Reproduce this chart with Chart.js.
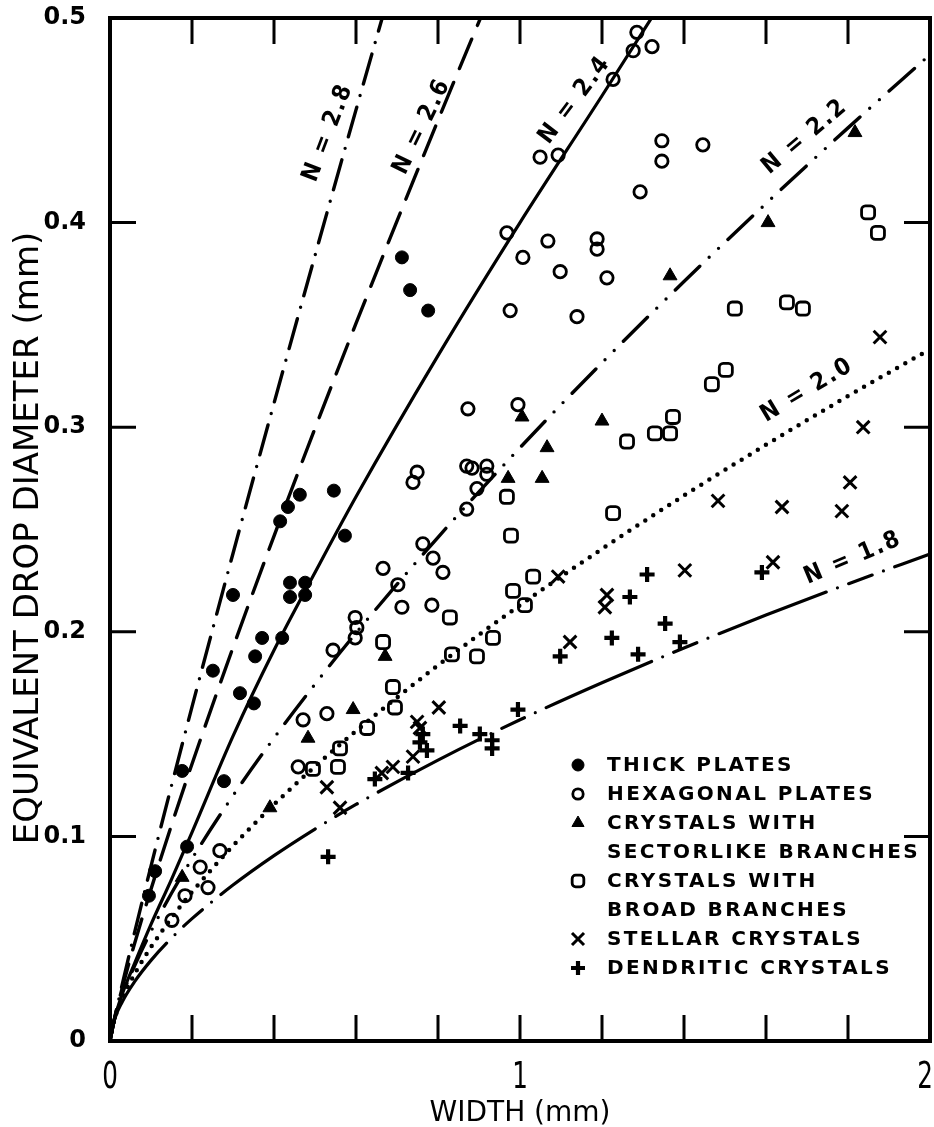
<!DOCTYPE html>
<html>
<head>
<meta charset="utf-8">
<script src="https://cdn.jsdelivr.net/npm/chart.js@4.4.1/dist/chart.umd.min.js"></script>
<style>
  html, body { margin: 0; padding: 0; background: #fff; }
  canvas { display: block; }
</style>
</head>
<body>
<canvas id="crystals" width="934" height="1127"></canvas>
<script>
// width (mm) / equivalent drop diameter (mm)
const thickPlates = [
  [0.712, 0.383], [0.732, 0.367], [0.776, 0.357], [0.546, 0.269], [0.463, 0.267],
  [0.434, 0.261], [0.415, 0.254], [0.573, 0.247], [0.439, 0.224], [0.476, 0.224],
  [0.439, 0.217], [0.476, 0.218], [0.300, 0.218], [0.371, 0.197], [0.420, 0.197],
  [0.354, 0.188], [0.251, 0.181], [0.317, 0.170], [0.351, 0.165], [0.278, 0.127],
  [0.188, 0.095], [0.176, 0.132], [0.110, 0.083], [0.095, 0.071]
];
const hexagonalPlates = [
  [1.285, 0.493], [1.276, 0.484], [1.322, 0.486], [1.227, 0.470], [1.049, 0.432],
  [1.093, 0.433], [1.346, 0.440], [1.346, 0.430], [1.293, 0.415], [1.446, 0.438],
  [0.968, 0.395], [1.007, 0.383], [1.068, 0.391], [1.098, 0.376], [1.188, 0.392],
  [1.188, 0.387], [1.212, 0.373], [0.976, 0.357], [1.139, 0.354], [0.873, 0.309],
  [0.995, 0.311], [0.749, 0.278], [0.739, 0.273], [0.870, 0.281], [0.883, 0.280],
  [0.919, 0.281], [0.919, 0.277], [0.895, 0.270], [0.870, 0.260], [0.763, 0.243],
  [0.788, 0.236], [0.812, 0.229], [0.666, 0.231], [0.702, 0.223], [0.712, 0.212],
  [0.785, 0.213], [0.598, 0.207], [0.602, 0.202], [0.598, 0.197], [0.544, 0.191],
  [0.529, 0.160], [0.471, 0.157], [0.459, 0.134], [0.268, 0.093], [0.220, 0.085],
  [0.239, 0.075], [0.183, 0.071], [0.151, 0.059]
];
const sectorBranches = [
  [1.817, 0.444], [1.605, 0.400], [1.366, 0.374], [1.200, 0.303], [1.066, 0.290],
  [1.054, 0.275], [0.971, 0.275], [1.005, 0.305], [0.671, 0.188], [0.593, 0.162],
  [0.483, 0.148], [0.390, 0.114], [0.176, 0.080]
];
const broadBranches = [
  [1.849, 0.405], [1.873, 0.395], [1.524, 0.358], [1.651, 0.361], [1.690, 0.358],
  [1.502, 0.328], [1.468, 0.321], [1.373, 0.305], [1.329, 0.297], [1.366, 0.297],
  [1.261, 0.293], [0.968, 0.266], [0.978, 0.247], [1.227, 0.258], [1.032, 0.227],
  [0.983, 0.220], [1.012, 0.213], [0.829, 0.207], [0.666, 0.195], [0.895, 0.188],
  [0.934, 0.197], [0.834, 0.189], [0.690, 0.173], [0.695, 0.163], [0.627, 0.153],
  [0.561, 0.143], [0.556, 0.134], [0.495, 0.133]
];
const stellarCrystals = [
  [1.878, 0.344], [1.837, 0.300], [1.805, 0.273], [1.785, 0.259], [1.639, 0.261],
  [1.483, 0.264], [1.617, 0.234], [1.402, 0.230], [1.212, 0.218], [1.207, 0.212],
  [1.093, 0.227], [1.122, 0.195], [0.802, 0.163], [0.756, 0.153], [0.749, 0.156],
  [0.739, 0.139], [0.690, 0.134], [0.663, 0.131], [0.529, 0.124], [0.561, 0.114]
];
const dendriticCrystals = [
  [1.310, 0.228], [1.268, 0.217], [1.224, 0.197], [1.098, 0.188], [1.288, 0.189],
  [0.995, 0.162], [0.932, 0.147], [1.590, 0.229], [1.354, 0.204], [1.390, 0.195],
  [0.902, 0.150], [0.932, 0.143], [0.854, 0.154], [0.763, 0.150], [0.756, 0.146],
  [0.773, 0.142], [0.727, 0.131], [0.646, 0.128], [0.532, 0.090]
];

// N curves, sampled at curveWidths
const curveWidths = [0, 0.01, 0.03, 0.06, 0.1, 0.15, 0.2, 0.3, 0.4, 0.5, 0.6, 0.8, 1.0, 1.2, 1.4, 1.6, 1.8, 2.0];
const curveN18 = [0, 0.0099, 0.0192, 0.0290, 0.0394, 0.0503, 0.0598, 0.0762, 0.0906, 0.1036, 0.1156, 0.1373, 0.157, 0.1751, 0.1921, 0.2082, 0.2234, 0.2380];
const curveN20 = [0, 0.0099, 0.0206, 0.0327, 0.0459, 0.0601, 0.0728, 0.0954, 0.1156, 0.1342, 0.1515, 0.1836, 0.213, 0.2405, 0.2666, 0.2914, 0.3152, 0.3381];
const curveN22 = [0, 0.0099, 0.0222, 0.0368, 0.0536, 0.0722, 0.0891, 0.1199, 0.1481, 0.1744, 0.1994, 0.2462, 0.290, 0.3315, 0.3712, 0.4093, 0.4463, 0.4821];
const curveN24 = [0, 0.0100, 0.023, 0.038, 0.057, 0.079, 0.102, 0.149, 0.191, 0.229, 0.266, 0.335, 0.400, 0.462, 0.525];
const curveN26 = [0, 0.0101, 0.0261, 0.0477, 0.0742, 0.1055, 0.1354, 0.1923, 0.2468, 0.2994, 0.3507, 0.4500, 0.546];
const curveN28 = [0, 0.0100, 0.0278, 0.0531, 0.0855, 0.1248, 0.1633, 0.2383, 0.3117, 0.3839, 0.4551, 0.595];
const curveN = [1.8, 2.0, 2.2, 2.4, 2.6, 2.8];

const xTickLabels = [0, 1, 2];

const FONT_SANS = '"DejaVu Sans", sans-serif';
const FONT_COND = '"DejaVu Sans Condensed", "DejaVu Sans", sans-serif';

function toPoints(pairs) {
  return pairs.map(([w, d]) => ({ x: w, y: d }));
}

function curvePoints(values) {
  return values.map((d, i) => ({ x: curveWidths[i], y: d }));
}

// line style per curve, same order as curveN
const curveStyles = [
  { values: curveN18, dash: [115, 12, 0, 12, 25, 12, 0, 12], width: 3.2, label: [1.812, 0.236, -23] },
  { values: curveN20, dash: [0, 9.5], width: 4.5, label: [1.700, 0.318, -31] },
  { values: curveN22, dash: [34, 13, 0, 13, 0, 13], width: 3.4, label: [1.695, 0.442, -40] },
  { values: curveN24, dash: [], width: 3.2, label: [1.134, 0.460, -53] },
  { values: curveN26, dash: [32, 15], width: 3.4, label: [0.761, 0.447, -64] },
  { values: curveN28, dash: [31, 12, 0, 12], width: 3.4, label: [0.532, 0.444, -69] },
];

const curveSets = curveStyles.map((s, i) => ({
  label: 'N = ' + curveN[i].toFixed(1),
  data: curvePoints(s.values),
  showLine: true,
  pointRadius: 0,
  borderColor: '#000',
  borderWidth: s.width,
  borderDash: s.dash,
  borderCapStyle: 'round',
  cubicInterpolationMode: 'monotone',
  isCurve: true,
  labelAt: s.label,
}));

const markerSets = [
  { label: 'THICK PLATES', data: toPoints(thickPlates), pointStyle: 'circle', pointRadius: 6.5,
    pointBackgroundColor: '#000', pointBorderWidth: 1, legendRadius: 6 },
  { label: 'HEXAGONAL PLATES', data: toPoints(hexagonalPlates), pointStyle: 'circle', pointRadius: 6.2,
    pointBackgroundColor: 'rgba(0,0,0,0)', pointBorderWidth: 2.8, legendRadius: 5.2 },
  { label: 'CRYSTALS WITH\nSECTORLIKE BRANCHES', data: toPoints(sectorBranches), pointStyle: 'triangle', pointRadius: 8,
    pointBackgroundColor: '#000', pointBorderWidth: 1, legendRadius: 7 },
  { label: 'CRYSTALS WITH\nBROAD BRANCHES', data: toPoints(broadBranches), pointStyle: 'rectRounded', pointRadius: 7.6,
    pointBackgroundColor: 'rgba(0,0,0,0)', pointBorderWidth: 2.8, legendRadius: 6.8 },
  { label: 'STELLAR CRYSTALS', data: toPoints(stellarCrystals), pointStyle: 'crossRot', pointRadius: 9,
    pointBackgroundColor: '#000', pointBorderWidth: 3, legendRadius: 8.5 },
  { label: 'DENDRITIC CRYSTALS', data: toPoints(dendriticCrystals), pointStyle: 'cross', pointRadius: 7.5,
    pointBackgroundColor: '#000', pointBorderWidth: 4.2, legendRadius: 7 },
].map(d => Object.assign({ pointBorderColor: '#000', showLine: false }, d));

// frame, inward ticks, x labels, curve labels, legend and axis titles
const paperFrame = {
  id: 'paperFrame',
  afterDatasetsDraw(chart) {
    const { ctx, chartArea: a, scales: { x, y } } = chart;
    const tickLen = 26;
    ctx.save();
    ctx.strokeStyle = '#000';
    ctx.fillStyle = '#000';

    ctx.lineWidth = 3;
    ctx.beginPath();
    x.ticks.forEach(t => {
      if (t.value < 0.01 || t.value > 1.99) return;
      const px = x.getPixelForValue(t.value);
      ctx.moveTo(px, a.bottom); ctx.lineTo(px, a.bottom - tickLen);
      ctx.moveTo(px, a.top); ctx.lineTo(px, a.top + tickLen);
    });
    y.ticks.forEach(t => {
      if (t.value < 0.01 || t.value > 0.49) return;
      const py = y.getPixelForValue(t.value);
      ctx.moveTo(a.left, py); ctx.lineTo(a.left + tickLen, py);
      ctx.moveTo(a.right, py); ctx.lineTo(a.right - tickLen, py);
    });
    ctx.stroke();

    ctx.lineWidth = 4;
    ctx.strokeRect(a.left, a.top, a.right - a.left, a.bottom - a.top);

    // tall narrow x labels
    ctx.font = '38px ' + FONT_COND;
    ctx.textAlign = 'center';
    ctx.textBaseline = 'alphabetic';
    xTickLabels.forEach(v => {
      const px = Math.min(x.getPixelForValue(v), a.right - 5);
      ctx.save();
      ctx.translate(px, 1088);
      ctx.scale(0.72, 1);
      ctx.fillText(String(v), 0, 0);
      ctx.restore();
    });

    // N = ... along each curve
    ctx.font = 'bold 24px ' + FONT_COND;
    ctx.letterSpacing = '2px';
    ctx.textBaseline = 'middle';
    chart.data.datasets.forEach(ds => {
      if (!ds.isCurve) return;
      const [w, d, ang] = ds.labelAt;
      ctx.save();
      ctx.translate(x.getPixelForValue(w), y.getPixelForValue(d));
      ctx.rotate(ang * Math.PI / 180);
      ctx.fillText(ds.label, 0, 0);
      ctx.restore();
    });

    // legend
    const markX = a.left + 468;
    const textX = a.left + 497;
    let rowY = 765;
    const rowH = 29;
    ctx.font = 'bold 20px ' + FONT_SANS;
    ctx.letterSpacing = '2.4px';
    ctx.textAlign = 'left';
    chart.data.datasets.forEach(ds => {
      if (ds.isCurve) return;
      ctx.save();
      ctx.fillStyle = ds.pointBackgroundColor;
      ctx.strokeStyle = '#000';
      ctx.lineWidth = ds.pointBorderWidth;
      Chart.helpers.drawPoint(ctx, {
        pointStyle: ds.pointStyle, radius: ds.legendRadius, rotation: 0,
        borderWidth: ds.pointBorderWidth
      }, markX, rowY);
      ctx.restore();
      ds.label.split('\n').forEach(line => {
        ctx.fillText(line, textX, rowY + 1);
        rowY += rowH;
      });
    });

    // axis titles
    ctx.letterSpacing = '0px';
    ctx.textAlign = 'center';
    ctx.textBaseline = 'alphabetic';
    ctx.font = '28px ' + FONT_SANS;
    ctx.fillText('WIDTH (mm)', (a.left + a.right) / 2, 1121);
    ctx.font = '34px ' + FONT_SANS;
    ctx.save();
    ctx.translate(38, 538);
    ctx.rotate(-Math.PI / 2);
    ctx.fillText('EQUIVALENT DROP DIAMETER (mm)', 0, 0);
    ctx.restore();

    ctx.restore();
  }
};

new Chart(document.getElementById('crystals'), {
  type: 'scatter',
  data: { datasets: [...markerSets, ...curveSets] },
  options: {
    responsive: false,
    animation: false,
    events: [],
    layout: { autoPadding: false, padding: { top: 18, right: 4, left: 0, bottom: 0 } },
    plugins: { legend: { display: false }, tooltip: { enabled: false } },
    scales: {
      x: {
        type: 'linear', min: 0, max: 2,
        grid: { display: false, drawTicks: false },
        border: { display: false },
        ticks: { stepSize: 0.2, autoSkip: false, display: false },
        afterFit: s => { s.height = 86; s.paddingLeft = 0; s.paddingRight = 0; }
      },
      y: {
        type: 'linear', min: 0, max: 0.5,
        grid: { display: false, drawTicks: false },
        border: { display: false },
        ticks: {
          stepSize: 0.1, padding: 24, color: '#000',
          font: { family: FONT_SANS, size: 24, weight: 'bold' }
        },
        afterFit: s => { s.width = 110; s.paddingTop = 0; s.paddingBottom = 0; }
      }
    }
  },
  plugins: [paperFrame]
});
</script>
</body>
</html>
